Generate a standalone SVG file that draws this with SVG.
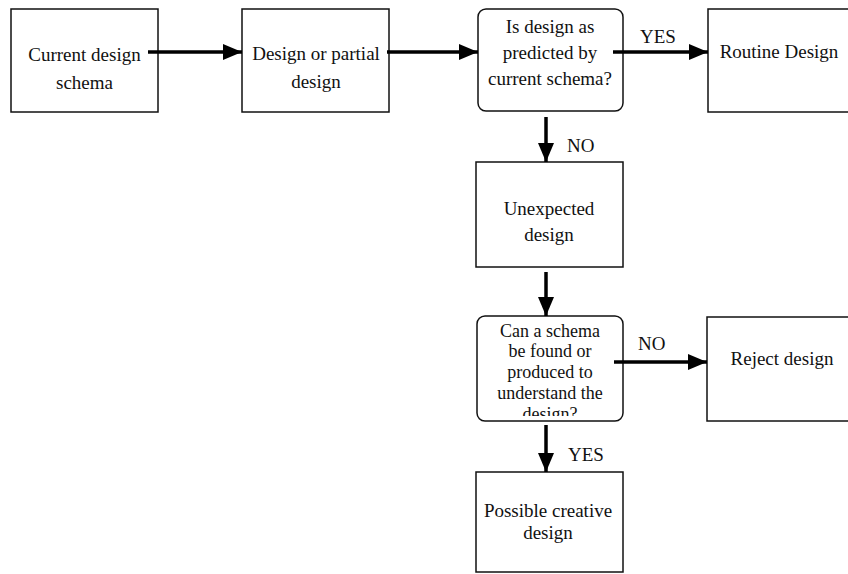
<svg xmlns="http://www.w3.org/2000/svg" width="848" height="574" viewBox="0 0 848 574">
  <style>
    .box { fill: #ffffff; stroke: #111111; stroke-width: 1.5; }
    .lbl { font-family: "Liberation Serif", "Times New Roman", serif; font-size: 19px; fill: #111111; text-anchor: middle; }
    .small { font-size: 18px; }
    .tag { font-family: "Liberation Serif", "Times New Roman", serif; font-size: 19px; fill: #111111; }
    .wire { stroke: #000000; stroke-width: 3.5; fill: none; marker-end: url(#head); }
  </style>
  <defs>
    <marker id="head" markerUnits="userSpaceOnUse" markerWidth="20" markerHeight="18" viewBox="0 0 20 18" refX="19" refY="9" orient="auto">
      <path d="M0,1 L19,9 L0,17 Z" fill="#000000"/>
    </marker>
    <clipPath id="q2clip">
      <rect x="478" y="317" width="144" height="99"/>
    </clipPath>
  </defs>
  <rect width="848" height="574" fill="#ffffff"/>

  <g id="current-schema">
    <rect class="box" x="11" y="9" width="147" height="103"/>
    <text class="lbl" x="84.5" y="61">Current design</text>
    <text class="lbl" x="84.5" y="89">schema</text>
  </g>

  <g id="design-or-partial">
    <rect class="box" x="242" y="9" width="147" height="103"/>
    <text class="lbl" x="316" y="60">Design or partial</text>
    <text class="lbl" x="316" y="88">design</text>
  </g>

  <g id="predicted-check">
    <rect class="box" x="478" y="9" width="145" height="102" rx="8" ry="8"/>
    <text class="lbl" x="550" y="33">Is design as</text>
    <text class="lbl" x="550" y="59">predicted by</text>
    <text class="lbl" x="550" y="85">current schema?</text>
  </g>

  <g id="routine-design">
    <rect class="box" x="708" y="9" width="150" height="103"/>
    <text class="lbl" x="779" y="58">Routine Design</text>
  </g>

  <g id="unexpected-design">
    <rect class="box" x="476" y="162" width="147" height="105"/>
    <text class="lbl" x="549" y="215">Unexpected</text>
    <text class="lbl" x="549" y="241">design</text>
  </g>

  <g id="schema-check">
    <rect class="box" x="477" y="316" width="146" height="105" rx="8" ry="8"/>
    <g clip-path="url(#q2clip)">
      <text class="lbl small" x="550" y="337">Can a schema</text>
      <text class="lbl small" x="550" y="357">be found or</text>
      <text class="lbl small" x="550" y="378">produced to</text>
      <text class="lbl small" x="550" y="399">understand the</text>
      <text class="lbl small" x="550" y="420">design?</text>
    </g>
  </g>

  <g id="reject-design">
    <rect class="box" x="707" y="317" width="150" height="104"/>
    <text class="lbl" x="782" y="365">Reject design</text>
  </g>

  <g id="creative-design">
    <rect class="box" x="476" y="472" width="147" height="100"/>
    <text class="lbl" x="548" y="517">Possible creative</text>
    <text class="lbl" x="548" y="539">design</text>
  </g>

  <g id="connectors">
    <line class="wire" x1="148" y1="52" x2="242" y2="52"/>
    <line class="wire" x1="387" y1="52" x2="478" y2="52"/>
    <line class="wire" x1="613" y1="52" x2="708" y2="52"/>
    <line class="wire" x1="546" y1="117" x2="546" y2="162"/>
    <line class="wire" x1="546" y1="272" x2="546" y2="316"/>
    <line class="wire" x1="614" y1="362" x2="707" y2="362"/>
    <line class="wire" x1="546" y1="425" x2="546" y2="472"/>
    <text class="tag" x="640" y="43">YES</text>
    <text class="tag" x="567" y="152">NO</text>
    <text class="tag" x="638" y="350">NO</text>
    <text class="tag" x="568" y="461">YES</text>
  </g>
</svg>
